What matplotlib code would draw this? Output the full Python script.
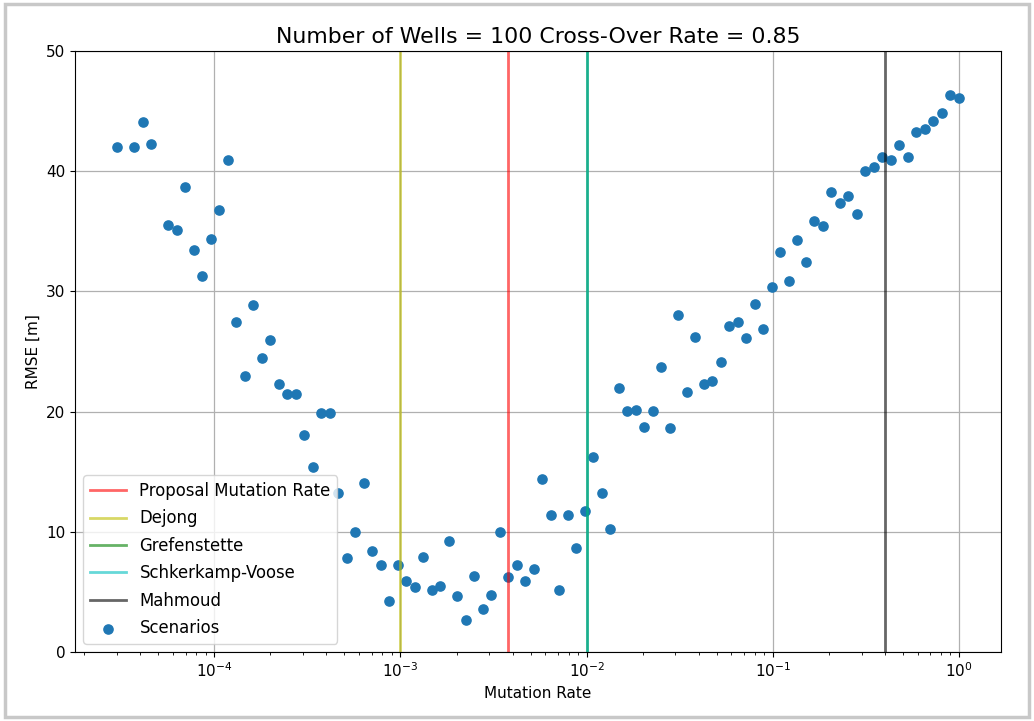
import matplotlib
matplotlib.use("Agg")
import matplotlib.pyplot as plt
from matplotlib.patches import Rectangle

# Mutation rates of the scenarios (log-spaced)
mutation_rate = [
    3.000e-5, 3.703e-5, 4.114e-5, 4.570e-5, 5.640e-5, 6.266e-5, 6.961e-5, 7.733e-5,
    8.590e-5, 9.543e-5, 1.0601e-4, 1.1777e-4, 1.3083e-4, 1.4534e-4, 1.6146e-4, 1.7937e-4,
    1.9927e-4, 2.2137e-4, 2.4596e-4, 2.7324e-4, 3.0355e-4, 3.3722e-4, 3.7463e-4, 4.1618e-4,
    4.6235e-4, 5.1363e-4, 5.7061e-4, 6.3390e-4, 7.043e-4, 7.824e-4, 8.692e-4, 9.656e-4,
    1.0727e-3, 1.1917e-3, 1.3239e-3, 1.4707e-3, 1.6339e-3, 1.8151e-3, 2.0164e-3, 2.2401e-3,
    2.4886e-3, 2.7646e-3, 3.0712e-3, 3.4119e-3, 3.7904e-3, 4.2108e-3, 4.6779e-3, 5.1968e-3,
    5.773e-3, 6.414e-3, 7.125e-3, 7.915e-3, 8.793e-3, 9.769e-3, 1.0852e-2, 1.2056e-2,
    1.3393e-2, 1.4879e-2, 1.6530e-2, 1.8363e-2, 2.0400e-2, 2.2663e-2, 2.5177e-2, 2.7970e-2,
    3.1073e-2, 3.4519e-2, 3.8348e-2, 4.2602e-2, 4.733e-2, 5.258e-2, 5.841e-2, 6.489e-2,
    7.209e-2, 8.009e-2, 8.897e-2, 9.884e-2, 0.10980, 0.12198, 0.13552, 0.15055,
    0.16725, 0.18580, 0.20641, 0.22931, 0.25474, 0.28300, 0.31439, 0.34926,
    0.38800, 0.43104, 0.47885, 0.53197, 0.59098, 0.65654, 0.72936, 0.81027,
    0.90015, 1.0000,
]

rmse = [
    42.0, 42.0, 44.1, 42.3, 35.55, 35.1, 38.66, 33.47,
    31.28, 34.4, 36.8, 40.96, 27.48, 23.0, 28.87, 24.5,
    26.0, 22.3, 21.5, 21.5, 18.05, 15.4, 19.9, 19.9,
    13.23, 7.82, 10.0, 14.06, 8.4, 7.26, 4.27, 7.26,
    5.88, 5.41, 7.93, 5.19, 5.52, 9.21, 4.63, 2.63,
    6.32, 3.58, 4.71, 10.0, 6.21, 7.27, 5.88, 6.9,
    14.37, 11.4, 5.19, 11.4, 8.63, 11.73, 16.22, 13.24,
    10.23, 21.96, 20.02, 20.13, 18.74, 20.02, 23.71, 18.65,
    28.06, 21.63, 26.22, 22.31, 22.55, 24.15, 27.15, 27.47,
    26.1, 28.96, 26.91, 30.37, 33.25, 30.84, 34.28, 32.45,
    35.88, 35.41, 38.3, 37.35, 37.96, 36.47, 40.02, 40.38,
    41.18, 40.93, 42.2, 41.18, 43.23, 43.48, 44.18, 44.87,
    46.37, 46.12,
]

reference_names = ["Proposal Mutation Rate", "Dejong", "Grefenstette",
                   "Schkerkamp-Voose", "Mahmoud"]
reference_rates = [0.0038, 0.001, 0.01, 0.01, 0.4]
reference_colors = ["r", "y", "g", "c", "k"]

title = "Number of Wells = 100 Cross-Over Rate = 0.85"

fig = plt.figure(figsize=(10.34, 7.21), dpi=100)
ax = fig.add_axes([0.0725, 0.0957, 0.8955, 0.8335])

for name, rate, col in zip(reference_names, reference_rates, reference_colors):
    ax.axvline(rate, color=col, alpha=0.6, lw=2.0, label=name)
ax.scatter(mutation_rate, rmse, s=44, color="#1f77b4", label="Scenarios")

ax.set_xscale("log")
ax.set_ylim(0, 50)
ax.grid(True, which="major", color="#b0b0b0", lw=0.9)
ax.set_axisbelow(True)
ax.tick_params(labelsize=11)
ax.set_xlabel("Mutation Rate", fontsize=11)
ax.set_ylabel("RMSE [m]", fontsize=11)
ax.set_title(title, fontsize=15.8)
ax.legend(loc="lower left", fontsize=11.9, handlelength=2.2, labelspacing=0.57)

fig.patches.append(Rectangle((0.005, 0.005), 0.99, 0.99, transform=fig.transFigure,
                             fill=False, edgecolor="#c8c8c8", lw=2.5))

fig.savefig("out.png", dpi=100)
